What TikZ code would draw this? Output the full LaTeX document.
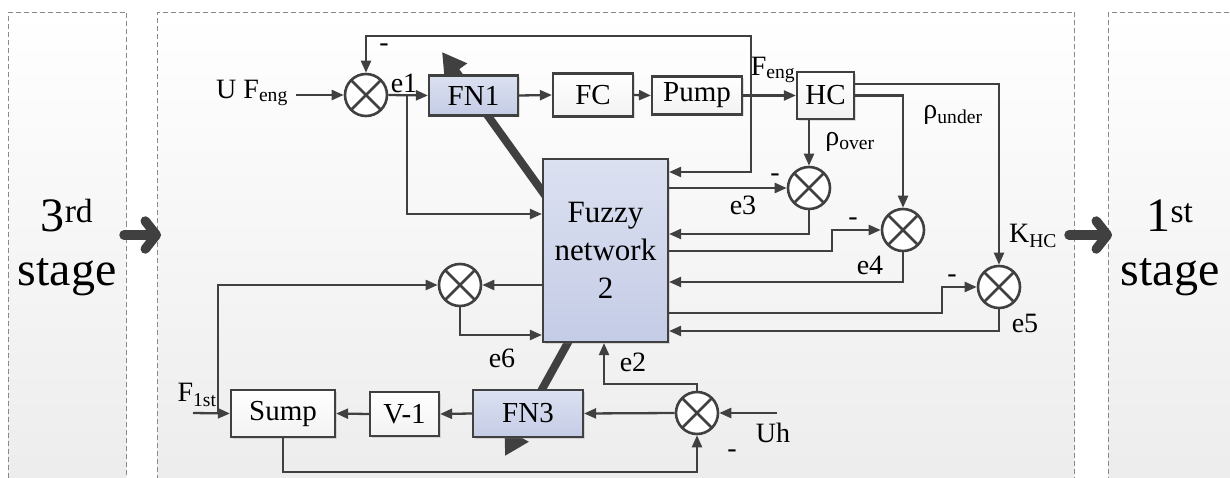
\documentclass[tikz,border=0pt]{standalone}
\usepackage{fontspec}
\setmainfont{Liberation Serif}
\usetikzlibrary{arrows.meta,positioning,backgrounds,shadows}
\definecolor{lncol}{HTML}{404040}
\definecolor{fzblue}{HTML}{DCE1F1}
\definecolor{fzblued}{HTML}{C4CCE6}
\definecolor{panelbot}{HTML}{ECECEC}
\definecolor{dashgray}{HTML}{8A8A8A}

\begin{document}
\begin{tikzpicture}[x=1pt, y=1pt,
  box/.style={draw=lncol, line width=2.2pt, top color=white, bottom color=gray!10, align=center, inner sep=0pt, font=\fontsize{29}{34}\selectfont, drop shadow={shadow xshift=2pt, shadow yshift=-2pt, opacity=0.25, fill=gray}},
  fzbox/.style={box, top color=fzblue, bottom color=fzblued},
  sumj/.style={circle, draw=lncol, line width=2.6pt, fill=white, minimum size=42pt, inner sep=0pt, path picture={\draw[lncol, line width=2.6pt] (path picture bounding box.north west) -- (path picture bounding box.south east) (path picture bounding box.north east) -- (path picture bounding box.south west);}},
  arr/.style={-{Triangle[length=12pt, width=10pt]}, line width=2.3pt, draw=lncol},
  thk/.style={-{Triangle[length=24pt, width=26pt]}, line width=8pt, draw=lncol},
  stagearr/.style={-{Straight Barb[round, length=11pt, width=28pt]}, line width=9.5pt, draw=lncol, line cap=round},
  lbl/.style={font=\fontsize{28}{32}\selectfont, inner sep=0pt},
  panel/.style={draw=dashgray, dash pattern=on 5pt off 3pt, line width=1pt, top color=white, bottom color=panelbot, anchor=north west, minimum height=480pt},
  stage/.style={font=\fontsize{48}{54}\selectfont, align=center}
]
\useasboundingbox (0,0) rectangle (1230,-478);

% forward path
\node[sumj] (s1) at (366,-95) {};
\node[fzbox, minimum width=89pt, minimum height=40pt] (fn1) at (473.5,-95.5) {FN1};
\node[box, minimum width=80pt, minimum height=43pt] (fc) at (593,-95) {FC};
\node[box, minimum width=90pt, minimum height=38pt] (pump) at (697,-95.5) {Pump};
\node[box, minimum width=57pt, minimum height=47pt] (hc) at (825.5,-95.5) {HC};
\node[fzbox, minimum width=125pt, minimum height=183pt, font=\fontsize{31}{38}\selectfont] (fuzzy) at (605.5,-250.5) {Fuzzy\\network\\2};

% error junctions
\node[sumj] (s3) at (809,-188) {};
\node[sumj] (s4) at (903,-230) {};
\node[sumj] (s5) at (999,-287) {};
\node[sumj] (s6) at (460,-285) {};
\node[sumj] (s7) at (697,-413) {};

% lower loop
\node[box, minimum width=104pt, minimum height=47pt] (sump) at (283,-413.5) {Sump};
\node[box, minimum width=69pt, minimum height=44pt] (v1) at (404.5,-414) {V-1};
\node[fzbox, minimum width=110pt, minimum height=47pt] (fn3) at (528,-413.5) {FN3};

% free ends and corners
\coordinate (fb) at (751,-95);
\coordinate (fbtop) at (751,-36);
\coordinate (e1b) at (407,-95);
\coordinate (k4) at (832,-251);
\coordinate (k5) at (942,-313);
\coordinate (k2) at (604,-384);
\coordinate (f1in) at (193,-413);
\coordinate (f1b) at (218,-413);
\coordinate (uhin) at (777,-413);
\coordinate (tune1) at (442,-52);
\coordinate (tune3) at (505,-456);

% stages and tuning arrows
\begin{scope}[on background layer]
\node[panel, minimum width=118pt] (p3) at (8,-12) {};
\node[panel, minimum width=917pt] (pm) at (157,-12) {};
\node[panel, minimum width=140pt] (p1) at (1108,-12) {};
\draw[thk] ([shift={(5,-40)}]fuzzy.north west) -- (tune1);
\draw[thk] ([shift={(28,4)}]fuzzy.south west) -- (tune3);
\end{scope}
\node[stage] (st3) at (67,-248) {3\textsuperscript{rd}\\stage};
\node[stage] (st1) at (1170,-248) {1\textsuperscript{st}\\stage};
\draw[stagearr, shorten <=-3pt, shorten >=-4pt] (p3.east |- 0,-235) -- (pm.west |- 0,-235);
\draw[stagearr, shorten <=-6pt, shorten >=-4pt] (pm.east |- 0,-235) -- (p1.west |- 0,-235);

% labels
\node[lbl, inner xsep=8pt] (ufeng) at (252,-93) {U F\textsubscript{eng}};
\node[lbl] at (384,-48) {-};
\node[lbl] at (404,-83) {e1};
\node[lbl] at (773,-70) {F\textsubscript{eng}};
\node[lbl] at (850,-142) {ρ\textsubscript{over}};
\node[lbl] at (953,-115) {ρ\textsubscript{under}};
\node[lbl] at (1033,-236) {K\textsubscript{HC}};
\node[lbl] at (775,-178) {-};
\node[lbl] at (743,-205) {e3};
\node[lbl] at (853,-222) {-};
\node[lbl] at (870,-265) {e4};
\node[lbl] at (952,-279) {-};
\node[lbl] at (1025,-323) {e5};
\node[lbl] at (502,-358) {e6};
\node[lbl] at (633,-362) {e2};
\node[lbl] at (197,-395) {F\textsubscript{1st}};
\node[lbl] at (773,-433) {Uh};
\node[lbl] at (732,-454) {-};

% connectors
\draw[arr] (ufeng.east |- s1) -- (s1.west);
\draw[arr] (s1.east) -- (fn1.west);
\draw[arr] (fn1.east) -- (fc.west);
\draw[arr] (fc.east) -- (pump.west);
\draw[arr] (pump.east) -- (hc.west);
\draw[arr] (fb) -- (fbtop) -| (s1.north);
\draw[arr] (fb) |- (fuzzy.east |- 0,-172);
\draw[arr] (e1b) |- (fuzzy.west |- 0,-214);
\draw[arr] (s3.north |- hc.south) -- (s3.north);
\draw[arr] (hc.east) -| (s4.north);
\draw[arr] ([yshift=11.5pt]hc.east) -| (s5.north);
\draw[arr] (fuzzy.east |- s3) -- (s3.west);
\draw[arr] (s3.south) |- (fuzzy.east |- 0,-234);
\draw[arr] (fuzzy.east |- k4) -- (k4) |- (s4.west);
\draw[arr] (s4.south) |- (fuzzy.east |- 0,-282);
\draw[arr] (fuzzy.east |- k5) -- (k5) |- (s5.west);
\draw[arr] (s5.south) |- (fuzzy.east |- 0,-331);
\draw[arr] (fuzzy.west |- s6) -- (s6.east);
\draw[arr] (s6.south) |- (fuzzy.west |- 0,-335);
\draw[arr] (f1in) -- (sump.west);
\draw[arr] (f1b) |- (s6.west);
\draw[arr] (uhin) -- (s7.east);
\draw[arr] (s7.west) -- (fn3.east);
\draw[arr] (fn3.west) -- (v1.east);
\draw[arr] (v1.west) -- (sump.east);
\draw[arr] (s7.north) |- (k2) -- (k2 |- fuzzy.south);
\draw[arr] (sump.south) -- ++(0,-34) -| (s7.south);
\end{tikzpicture}
\end{document}
